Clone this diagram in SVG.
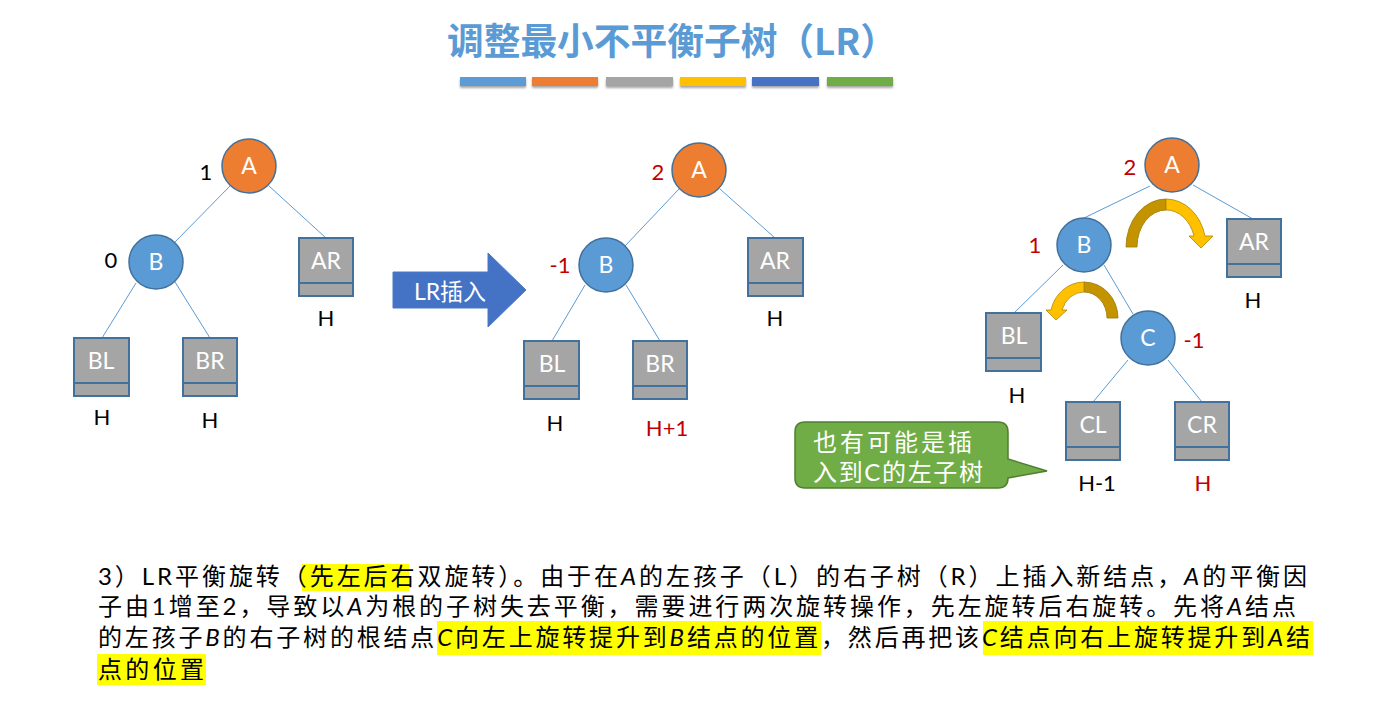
<svg xmlns="http://www.w3.org/2000/svg" width="1399" height="716" viewBox="0 0 1399 716">
  <defs>
    <filter id="barShadow" x="-5%" y="-50%" width="110%" height="250%">
      <feDropShadow dx="0" dy="2" stdDeviation="1.2" flood-color="#000" flood-opacity="0.35"/>
    </filter>
    <style>
      .title { font-family: "Noto Sans CJK SC", "Lato", sans-serif; font-size: 37px; font-weight: bold; fill: #5B9BD5; }
      .edge { stroke: #5B9BD5; stroke-width: 1; fill: none; }
      .rootA { fill: #ED7D31; stroke: #41719C; stroke-width: 1.5; }
      .inner { fill: #5B9BD5; stroke: #41719C; stroke-width: 1.5; }
      .box { fill: #A5A5A5; stroke: #41719C; stroke-width: 2; }
      .div { stroke: #41719C; stroke-width: 2; }
      .nlabel { font-family: "Lato", "Noto Sans CJK SC", sans-serif; font-size: 23px; fill: #fff; text-anchor: middle; }
      .lbl { font-family: "Lato", "Noto Sans CJK SC", sans-serif; font-size: 22px; fill: #000; text-anchor: middle; }
      .red { fill: #C00000; }
      .para { font-family: "Lato", "Noto Sans CJK SC", sans-serif; font-size: 24px; fill: #000; }
      .it { font-style: italic; }
      .hl { fill: #FFFF00; }
      .callout { fill: #70AD47; stroke: #507E32; stroke-width: 1.5; }
      .ctext { font-family: "Lato", "Noto Sans CJK SC", sans-serif; font-size: 24px; fill: #fff; }
      .goldDark { fill: #C49300; stroke: #9C7600; stroke-width: 0.8; }
      .goldLight { fill: #FFC000; stroke: #B08600; stroke-width: 0.8; }
    </style>
  </defs>

  <!-- heading -->
  <text class="title" x="447" y="55" textLength="450" lengthAdjust="spacingAndGlyphs">调整最小不平衡子树（LR）</text>
  <g id="colorBars" filter="url(#barShadow)">
    <rect x="460" y="77" width="66" height="9" fill="#5B9BD5"/>
    <rect x="532" y="77" width="66" height="9" fill="#ED7D31"/>
    <rect x="606" y="77" width="67" height="9" fill="#A5A5A5"/>
    <rect x="680" y="77" width="66" height="9" fill="#FFC000"/>
    <rect x="752" y="77" width="67" height="9" fill="#4472C4"/>
    <rect x="827" y="77" width="66" height="9" fill="#70AD47"/>
  </g>

  <!-- connectors -->
  <g id="connectors">
    <!-- tree 1 -->
    <line class="edge" x1="230" y1="186" x2="175" y2="242"/>
    <line class="edge" x1="269" y1="186" x2="326" y2="238"/>
    <line class="edge" x1="136" y1="283" x2="102" y2="338"/>
    <line class="edge" x1="175" y1="282" x2="210" y2="338"/>
    <!-- tree 2 -->
    <line class="edge" x1="679" y1="189" x2="625" y2="246"/>
    <line class="edge" x1="720" y1="189" x2="775" y2="238"/>
    <line class="edge" x1="585" y1="285" x2="552" y2="341"/>
    <line class="edge" x1="626" y1="285" x2="660" y2="341"/>
    <!-- tree 3 -->
    <line class="edge" x1="1150" y1="186" x2="1084" y2="218"/>
    <line class="edge" x1="1193" y1="185" x2="1253" y2="219"/>
    <line class="edge" x1="1063" y1="265" x2="1014" y2="313"/>
    <line class="edge" x1="1104" y1="265" x2="1133" y2="314"/>
    <line class="edge" x1="1128" y1="360" x2="1093" y2="402"/>
    <line class="edge" x1="1168" y1="360" x2="1202" y2="402"/>
  </g>

  <!-- tree 1: before insertion -->
  <g id="t1-A"><circle class="rootA" cx="249" cy="166" r="27"/><text class="nlabel" x="249" y="174">A</text></g>
  <g id="t1-B"><circle class="inner" cx="156" cy="262" r="27"/><text class="nlabel" x="156" y="270">B</text></g>
  <g id="t1-AR"><rect class="box" x="299" y="238" width="54" height="58"/><line class="div" x1="299" y1="283" x2="353" y2="283"/><text class="nlabel" x="326" y="269">AR</text></g>
  <g id="t1-BL"><rect class="box" x="74" y="338" width="55" height="58"/><line class="div" x1="74" y1="383" x2="129" y2="383"/><text class="nlabel" x="101" y="369">BL</text></g>
  <g id="t1-BR"><rect class="box" x="183" y="338" width="54" height="58"/><line class="div" x1="183" y1="383" x2="237" y2="383"/><text class="nlabel" x="210" y="369">BR</text></g>
  <g id="t1-labels">
    <text class="lbl" x="206" y="180">1</text>
    <text class="lbl" x="111" y="268">0</text>
    <text class="lbl" x="326" y="326">H</text>
    <text class="lbl" x="102" y="425">H</text>
    <text class="lbl" x="210" y="428">H</text>
  </g>

  <!-- insertion arrow -->
  <g id="insertArrow">
    <polygon points="393,272 488,272 488,253 526,290 488,327 488,308 393,308" fill="#4472C4" stroke="#4A78C8" stroke-width="1"/>
    <text x="450" y="300" font-family="Lato, 'Noto Sans CJK SC', sans-serif" font-size="23" fill="#fff" text-anchor="middle">LR插入</text>
  </g>

  <!-- tree 2: after LR insertion -->
  <g id="t2-A"><circle class="rootA" cx="699" cy="170" r="27"/><text class="nlabel" x="699" y="178">A</text></g>
  <g id="t2-B"><circle class="inner" cx="606" cy="265" r="27"/><text class="nlabel" x="606" y="273">B</text></g>
  <g id="t2-AR"><rect class="box" x="748" y="238" width="55" height="58"/><line class="div" x1="748" y1="283" x2="803" y2="283"/><text class="nlabel" x="775" y="269">AR</text></g>
  <g id="t2-BL"><rect class="box" x="524" y="341" width="55" height="58"/><line class="div" x1="524" y1="386" x2="579" y2="386"/><text class="nlabel" x="552" y="372">BL</text></g>
  <g id="t2-BR"><rect class="box" x="633" y="341" width="54" height="58"/><line class="div" x1="633" y1="386" x2="687" y2="386"/><text class="nlabel" x="660" y="372">BR</text></g>
  <g id="t2-labels">
    <text class="lbl red" x="658" y="180">2</text>
    <text class="lbl red" x="560" y="273">-1</text>
    <text class="lbl" x="775" y="326">H</text>
    <text class="lbl" x="555" y="431">H</text>
    <text class="lbl red" x="667" y="436">H+1</text>
  </g>

  <!-- tree 3: inserted into C's subtree -->
  <g id="t3-A"><circle class="rootA" cx="1172" cy="165" r="27"/><text class="nlabel" x="1172" y="173">A</text></g>
  <g id="t3-B"><circle class="inner" cx="1084" cy="245" r="27"/><text class="nlabel" x="1084" y="253">B</text></g>
  <g id="t3-C"><circle class="inner" cx="1148" cy="338" r="27"/><text class="nlabel" x="1148" y="346">C</text></g>
  <g id="t3-AR"><rect class="box" x="1227" y="219" width="54" height="58"/><line class="div" x1="1227" y1="264" x2="1281" y2="264"/><text class="nlabel" x="1254" y="250">AR</text></g>
  <g id="t3-BL"><rect class="box" x="986" y="313" width="55" height="58"/><line class="div" x1="986" y1="358" x2="1041" y2="358"/><text class="nlabel" x="1014" y="344">BL</text></g>
  <g id="t3-CL"><rect class="box" x="1066" y="402" width="54" height="58"/><line class="div" x1="1066" y1="447" x2="1120" y2="447"/><text class="nlabel" x="1093" y="433">CL</text></g>
  <g id="t3-CR"><rect class="box" x="1175" y="402" width="54" height="58"/><line class="div" x1="1175" y1="447" x2="1229" y2="447"/><text class="nlabel" x="1202" y="433">CR</text></g>
  <g id="t3-labels">
    <text class="lbl red" x="1130" y="175">2</text>
    <text class="lbl red" x="1035" y="253">1</text>
    <text class="lbl red" x="1194" y="348">-1</text>
    <text class="lbl" x="1253" y="308">H</text>
    <text class="lbl" x="1017" y="403">H</text>
    <text class="lbl" x="1097" y="491">H-1</text>
    <text class="lbl red" x="1203" y="491">H</text>
  </g>

  <!-- rotation arrows -->
  <g id="rotateRight">
    <path class="goldDark" d="M1126,247 A40,48 0 0 1 1166,199 L1166,210 A29,37 0 0 0 1137,247 Z"/>
    <path class="goldLight" d="M1166,199 A40,48 0 0 1 1205,236 L1213,236 L1201,248 L1189,236 L1194,236 A29,37 0 0 0 1166,210 Z"/>
  </g>
  <g id="rotateLeft">
    <path class="goldDark" d="M1118,318 A34,36 0 0 0 1084,282 L1084,292 A23,26 0 0 1 1107,318 Z"/>
    <path class="goldLight" d="M1084,282 A34,36 0 0 0 1051,310 L1046,310 L1056,320 L1067,310 L1062,310 A23,26 0 0 1 1084,292 Z"/>
  </g>

  <!-- callout -->
  <g id="callout">
    <path class="callout" d="M805,422 L998,422 Q1008,422 1008,432 L1008,459 L1047,471 L1008,478 Q1008,488 998,488 L805,488 Q795,488 795,478 L795,432 Q795,422 805,422 Z"/>
    <text class="ctext" x="813" y="451" textLength="159" lengthAdjust="spacing">也有可能是插</text>
    <text class="ctext" x="813" y="481" textLength="170" lengthAdjust="spacing">入到C的左子树</text>
  </g>

  <!-- explanation paragraph -->
  <g id="paragraph">
    <rect class="hl" x="302" y="564" width="107" height="27"/>
    <rect class="hl" x="437" y="621" width="384" height="34"/>
    <rect class="hl" x="983" y="621" width="330" height="34"/>
    <rect class="hl" x="97" y="654" width="109" height="31"/>
    <text class="para" x="98" y="585" textLength="1209" lengthAdjust="spacing">3）LR平衡旋转（先左后右双旋转）。由于在<tspan class="it">A</tspan>的左孩子（L）的右子树（R）上插入新结点，<tspan class="it">A</tspan>的平衡因</text>
    <text class="para" x="98" y="615" textLength="1198" lengthAdjust="spacing">子由1增至2，导致以<tspan class="it">A</tspan>为根的子树失去平衡，需要进行两次旋转操作，先左旋转后右旋转。先将<tspan class="it">A</tspan>结点</text>
    <text class="para" x="98" y="646" textLength="1212" lengthAdjust="spacing">的左孩子<tspan class="it">B</tspan>的右子树的根结点<tspan class="it">C</tspan>向左上旋转提升到<tspan class="it">B</tspan>结点的位置，然后再把该<tspan class="it">C</tspan>结点向右上旋转提升到<tspan class="it">A</tspan>结</text>
    <text class="para" x="98" y="678" textLength="106" lengthAdjust="spacing">点的位置</text>
  </g>
</svg>
